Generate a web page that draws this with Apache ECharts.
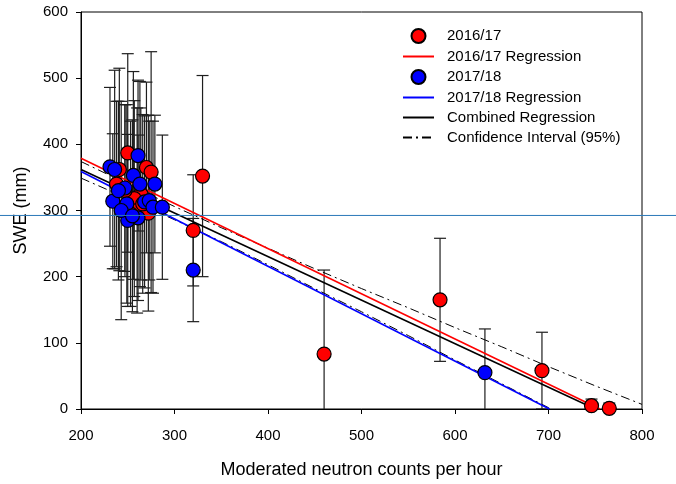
<!DOCTYPE html>
<html>
<head>
<meta charset="utf-8">
<script src="https://cdn.jsdelivr.net/npm/echarts@6/dist/echarts.min.js"></script>
<style>html,body{margin:0;padding:0;background:#fff}#c{width:676px;height:484px}</style>
</head>
<body>
<div id="c"></div>
<script>
// ---- data ----
const redX   = [250, 270, 275, 241, 264, 257, 247, 260, 253, 272, 266, 238, 320, 330, 460, 584, 693, 746, 765];
const redY   = [387, 365, 358, 362, 325, 318, 330, 300, 295, 296, 310, 340, 270, 352,  83, 165,  58,   5,   1];
const redErr = [150, 129, 182, 153, 130, 148, 130, 155, 140, 148, 135, 125,  84, 152, 127,  93,  58,  10,   8];

const blueX   = [231, 236, 261, 256, 263, 279, 247, 234, 249, 268, 273, 277, 287, 250, 261, 243, 255, 240, 320, 632];
const blueY   = [366, 362, 383, 353, 340, 340, 334, 314, 310, 313, 315, 305, 305, 285, 289, 300, 292, 330, 210,  55];
const blueErr = [120, 150, 114, 157, 155, 104, 126, 102, 150, 130, 120, 130, 109, 130, 125, 165, 145, 135,  78,  66];

const redRegX = [200, 755];   const redRegY = [379, 0];
const blueRegX = [200, 701];  const blueRegY = [359, 0];
const combRegX = [200, 750];  const combRegY = [362, 0];

const ciUpX = [200, 250, 300, 350, 400, 450, 500, 550, 600, 650, 700, 750, 800];
const ciUpY = [374, 340, 306, 274, 243, 212, 182, 153, 123, 94, 64, 35, 7];
const ciLoX = [200, 250, 300, 350, 400, 450, 500, 550, 600, 650, 700, 702];
const ciLoY = [349, 318, 286, 253, 218, 182, 147, 111, 74, 38, 2, 0];

const refLineY = 292.5;   // stray horizontal line across the picture

const xTicks = [200, 300, 400, 500, 600, 700, 800];
const yTicks = [0, 100, 200, 300, 400, 500, 600];

// ---- build ----
const zip = (xs, ys) => xs.map((x, i) => [x, ys[i]]);
const errData = (xs, ys, es) => xs.map((x, i) => [x, ys[i] - es[i], ys[i] + es[i]]);

const FONT = "'Liberation Sans', Arial, sans-serif";
const BAR = '#1e1e1e';

function renderErr(params, api) {
  const x = api.value(0), lo = api.value(1), hi = api.value(2);
  const pHi = api.coord([x, hi]);
  const pLo = api.coord([x, lo]);
  const half = 6;
  const st = { stroke: BAR, lineWidth: 1.2 };
  return {
    type: 'group',
    children: [
      { type: 'line', shape: { x1: pHi[0], y1: pHi[1], x2: pLo[0], y2: pLo[1] }, style: st },
      { type: 'line', shape: { x1: pHi[0] - half, y1: pHi[1], x2: pHi[0] + half, y2: pHi[1] }, style: st },
      { type: 'line', shape: { x1: pLo[0] - half, y1: pLo[1], x2: pLo[0] + half, y2: pLo[1] }, style: st }
    ]
  };
}

const chart = echarts.init(document.getElementById('c'), null, { renderer: 'canvas' });

const lineBase = { type: 'line', symbol: 'none', showSymbol: false, silent: true, animation: false };
const noSym = { opacity: 0 };

const option = {
  animation: false,
  backgroundColor: '#fff',
  textStyle: { fontFamily: FONT },
  grid: { left: 81, right: 34, top: 12, bottom: 72, show: true, borderColor: '#000', borderWidth: 1, backgroundColor: 'transparent' },
  legend: {
    orient: 'vertical',
    left: 397, top: 23,
    itemWidth: 31, itemHeight: 14, itemGap: 5,
    textStyle: { fontFamily: FONT, fontSize: 15, color: '#000', padding: [0, 0, 0, 8] },
    data: [
      { name: '2016/17' },
      { name: '2016/17 Regression', itemStyle: noSym },
      { name: '2017/18' },
      { name: '2017/18 Regression', itemStyle: noSym },
      { name: 'Combined Regression', itemStyle: noSym },
      { name: 'Confidence Interval (95%)', itemStyle: noSym }
    ],
    selectedMode: false
  },
  xAxis: {
    type: 'value', min: 200, max: 800, interval: 100,
    name: 'Moderated neutron counts per hour', nameLocation: 'middle', nameGap: 52,
    nameTextStyle: { fontFamily: FONT, fontSize: 18, color: '#000' },
    axisLine: { show: true, lineStyle: { color: '#000', width: 1 } },
    axisTick: { show: true, length: 5, inside: false, lineStyle: { color: '#000' } },
    axisLabel: { fontFamily: FONT, fontSize: 15, color: '#000', margin: 19,
      formatter: v => xTicks.includes(v) ? String(v) : '' },
    splitLine: { show: false }
  },
  yAxis: {
    type: 'value', min: 0, max: 600, interval: 100,
    name: 'SWE (mm)', nameLocation: 'middle', nameGap: 51,
    nameTextStyle: { fontFamily: FONT, fontSize: 18, color: '#000' },
    axisLine: { show: true, lineStyle: { color: '#000', width: 1 } },
    axisTick: { show: true, length: 5, inside: false, lineStyle: { color: '#000' } },
    axisLabel: { fontFamily: FONT, fontSize: 15, color: '#000', margin: 13,
      formatter: v => yTicks.includes(v) ? String(v) : '' },
    splitLine: { show: false }
  },
  series: [
    { type: 'custom', name: 'err1617', renderItem: renderErr, data: errData(redX, redY, redErr),
      encode: { x: 0, y: [1, 2] }, clip: true, z: 1, silent: true },
    { type: 'custom', name: 'err1718', renderItem: renderErr, data: errData(blueX, blueY, blueErr),
      encode: { x: 0, y: [1, 2] }, clip: true, z: 1, silent: true },
    Object.assign({}, lineBase, { name: 'Confidence Interval (95%)', data: zip(ciUpX, ciUpY), z: 2,
      lineStyle: { color: '#000', width: 1, type: [9, 4, 2, 4] }, itemStyle: { color: '#000' } }),
    Object.assign({}, lineBase, { name: 'Confidence Interval (95%)', data: zip(ciLoX, ciLoY), z: 2,
      lineStyle: { color: '#000', width: 1, type: [9, 4, 2, 4] }, itemStyle: { color: '#000' } }),
    Object.assign({}, lineBase, { name: 'Combined Regression', data: zip(combRegX, combRegY), z: 3,
      lineStyle: { color: '#000', width: 1.6 }, itemStyle: { color: '#000' } }),
    Object.assign({}, lineBase, { name: '2016/17 Regression', data: zip(redRegX, redRegY), z: 3,
      lineStyle: { color: '#ff0000', width: 1.6 }, itemStyle: { color: '#ff0000' } }),
    Object.assign({}, lineBase, { name: '2017/18 Regression', data: zip(blueRegX, blueRegY), z: 3,
      lineStyle: { color: '#0000ff', width: 1.6 }, itemStyle: { color: '#0000ff' } }),
    { type: 'scatter', name: '2016/17', data: zip(redX, redY), symbol: 'circle', symbolSize: 14, z: 4,
      clip: false, itemStyle: { color: '#ff0000', borderColor: '#000', borderWidth: 1.2, opacity: 1 } },
    { type: 'scatter', name: '2017/18', data: zip(blueX, blueY), symbol: 'circle', symbolSize: 14, z: 5,
      clip: false, itemStyle: { color: '#0000ff', borderColor: '#000', borderWidth: 1.2, opacity: 1 } }
  ]
};

chart.setOption(option);

// stray horizontal line spanning the whole picture, positioned via the y scale
const yPix = chart.convertToPixel({ yAxisIndex: 0 }, refLineY);
chart.setOption({
  graphic: [{
    type: 'line', silent: true, z: 100,
    shape: { x1: 0, y1: yPix, x2: 676, y2: yPix },
    style: { stroke: '#2a78b8', lineWidth: 1 }
  }]
});
</script>
</body>
</html>
